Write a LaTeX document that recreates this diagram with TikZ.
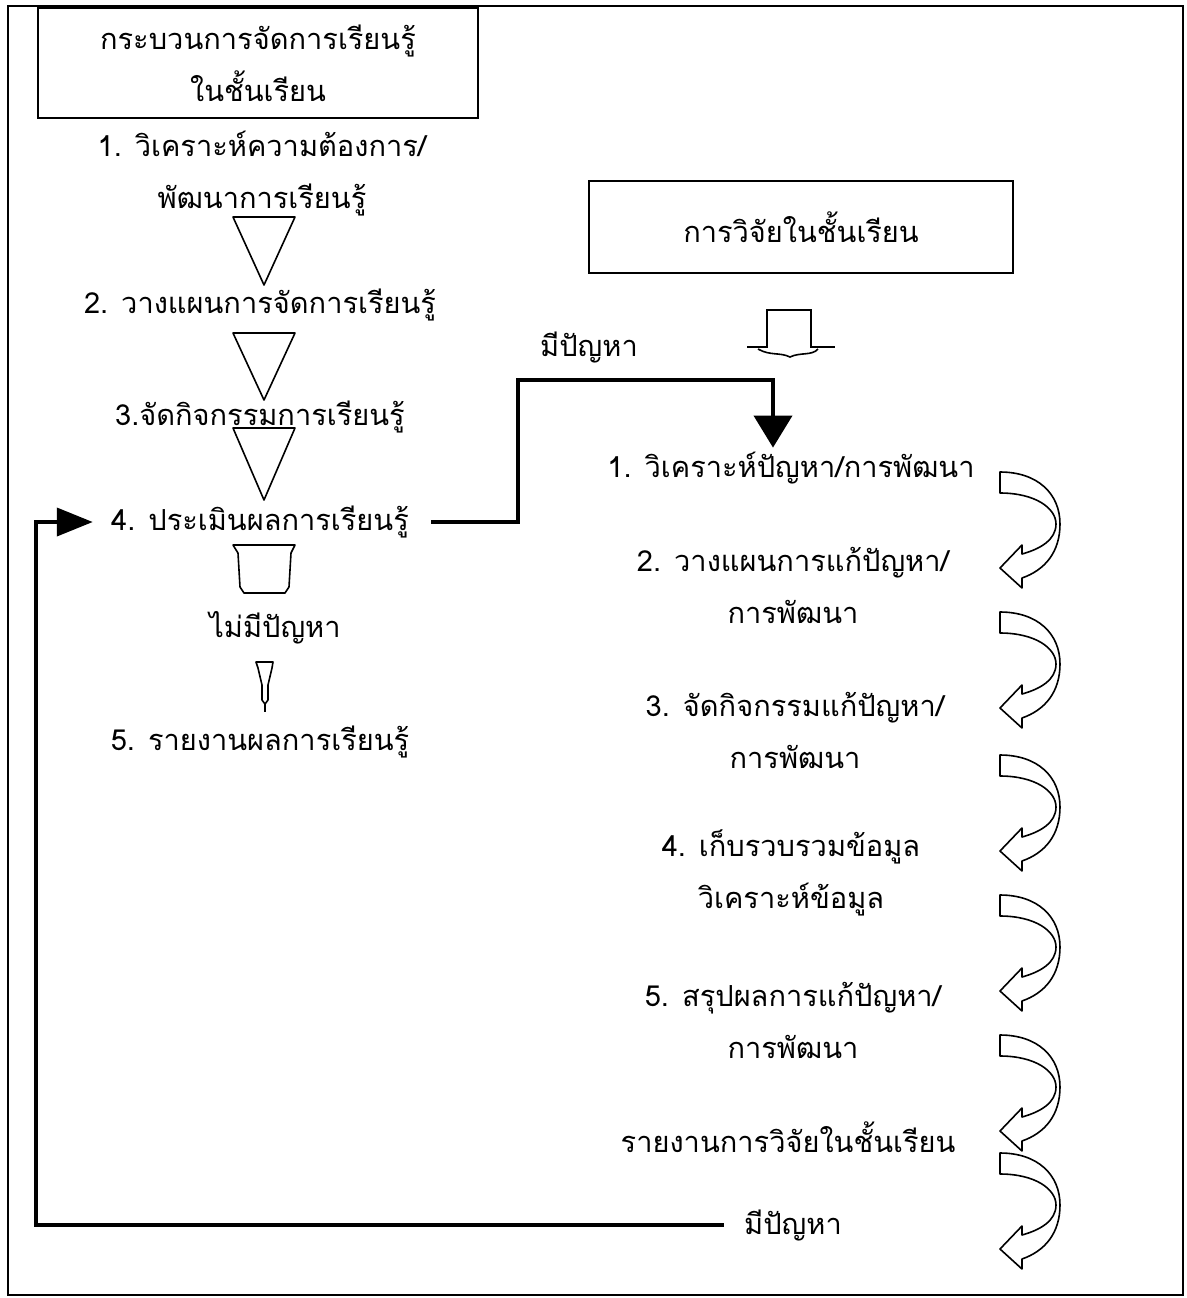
\documentclass[tikz,border=0pt]{standalone}
\usepackage{fontspec}
\newfontfamily\thaifont[Script=Thai]{Loma}
\usepackage{tikz}
\usetikzlibrary{arrows.meta}
\tikzset{>={Triangle[width=14pt,length=18pt]}}
\tikzset{
  txt/.style={font=\thaifont\fontsize{14.5}{26}\selectfont, align=center, inner sep=2pt},
  headbox/.style={txt, draw, line width=1pt},
  fat/.style={line width=2pt},
  outl/.style={line width=0.8pt, line join=round},
}

\begin{document}
\begin{tikzpicture}[x=0.5pt,y=-0.5pt]

  \useasboundingbox (0,0) rectangle (1187,1298);
  \draw[line width=0.7pt] (8,6) rectangle (1183,1295);

  % left column
  \node[headbox, minimum width=220pt, minimum height=55pt] (lhead) at (258,63) {กระบวนการจัดการเรียนรู้\\ในชั้นเรียน};
  \node[txt] (l1) at (262,174) {1. วิเคราะห์ความต้องการ/\\พัฒนาการเรียนรู้};
  \node[txt] (l2) at (260,305) {2. วางแผนการจัดการเรียนรู้};
  \node[txt] (l3) at (260,417) {3.จัดกิจกรรมการเรียนรู้};
  \node[txt] (l4) at (260,522) {4. ประเมินผลการเรียนรู้};
  \node[txt] (nope) at (275,628) {ไม่มีปัญหา};
  \node[txt] (l5) at (260,742) {5. รายงานผลการเรียนรู้};

  \foreach \t/\b in {217/285, 333/400, 428/500}
    \draw[outl] (233,\t) -- (295,\t) -- (264,\b) -- cycle;

  \draw[outl] (233,545) -- (295,545) -- (291,553) -- (289,587) -- (285,593)
    -- (244,593) -- (240,587) -- (238,553) -- cycle;
  \draw[outl] (256,662) -- (273,662) -- (272,668) -- (268,685) -- (268,700)
    -- (265,704) -- (262,700) -- (262,685) -- (258,668) -- cycle;
  \draw[outl] (265,704) -- (265,712);

  % right column
  \node[headbox, minimum width=212pt, minimum height=46pt] (rhead) at (801,227) {การวิจัยในชั้นเรียน};
  \draw[line width=1.2pt] (747,347) -- (767,347) -- (767,310) -- (811,310) -- (811,347) -- (835,347);
  \draw[outl] (758,349) .. controls (770,356) and (780,352) .. (790,357)
    .. controls (800,352) and (812,356) .. (818,349);

  \node[txt] (yes1) at (589,348) {มีปัญหา};
  \node[txt] (r1) at (791,468) {1. วิเคราะห์ปัญหา/การพัฒนา};
  \node[txt] (r2) at (793,585) {2. วางแผนการแก้ปัญหา/\\การพัฒนา};
  \node[txt] (r3) at (795,730) {3. จัดกิจกรรมแก้ปัญหา/\\การพัฒนา};
  \node[txt] (r4) at (791,873) {4. เก็บรวบรวมข้อมูล\\วิเคราะห์ข้อมูล};
  \node[txt] (r5) at (793,1020) {5. สรุปผลการแก้ปัญหา/\\การพัฒนา};
  \node[txt] (r6) at (788,1137) {รายงานการวิจัยในชั้นเรียน};
  \node[txt] (yes2) at (793,1225) {มีปัญหา};

  \foreach \t in {472,612,755,895,1035,1153}
    \draw[outl, shift={(1000,\t)}] (0,0) .. controls (38,0) and (60,22) .. (60,52)
      .. controls (60,80) and (45,98) .. (22,106) -- (22,116) -- (0,96) -- (22,73)
      -- (22,82) .. controls (40,77) and (56,68) .. (56,52)
      .. controls (56,36) and (35,21) .. (0,21) -- cycle;

  % l4 -> r1
  \coordinate (step) at (518,380);
  \draw[fat, -{Triangle[width=19pt,length=16pt]}, shorten <=9pt]
    (l4.east) -| (step) -| ([xshift=-9pt]r1.north);

  % yes2 -> l4
  \coordinate (leftx) at (36,0);
  \draw[fat, ->, shorten <=8pt, shorten >=7pt] (yes2.west) -- (yes2.west -| leftx) |- (l4.west);

\end{tikzpicture}
\end{document}
